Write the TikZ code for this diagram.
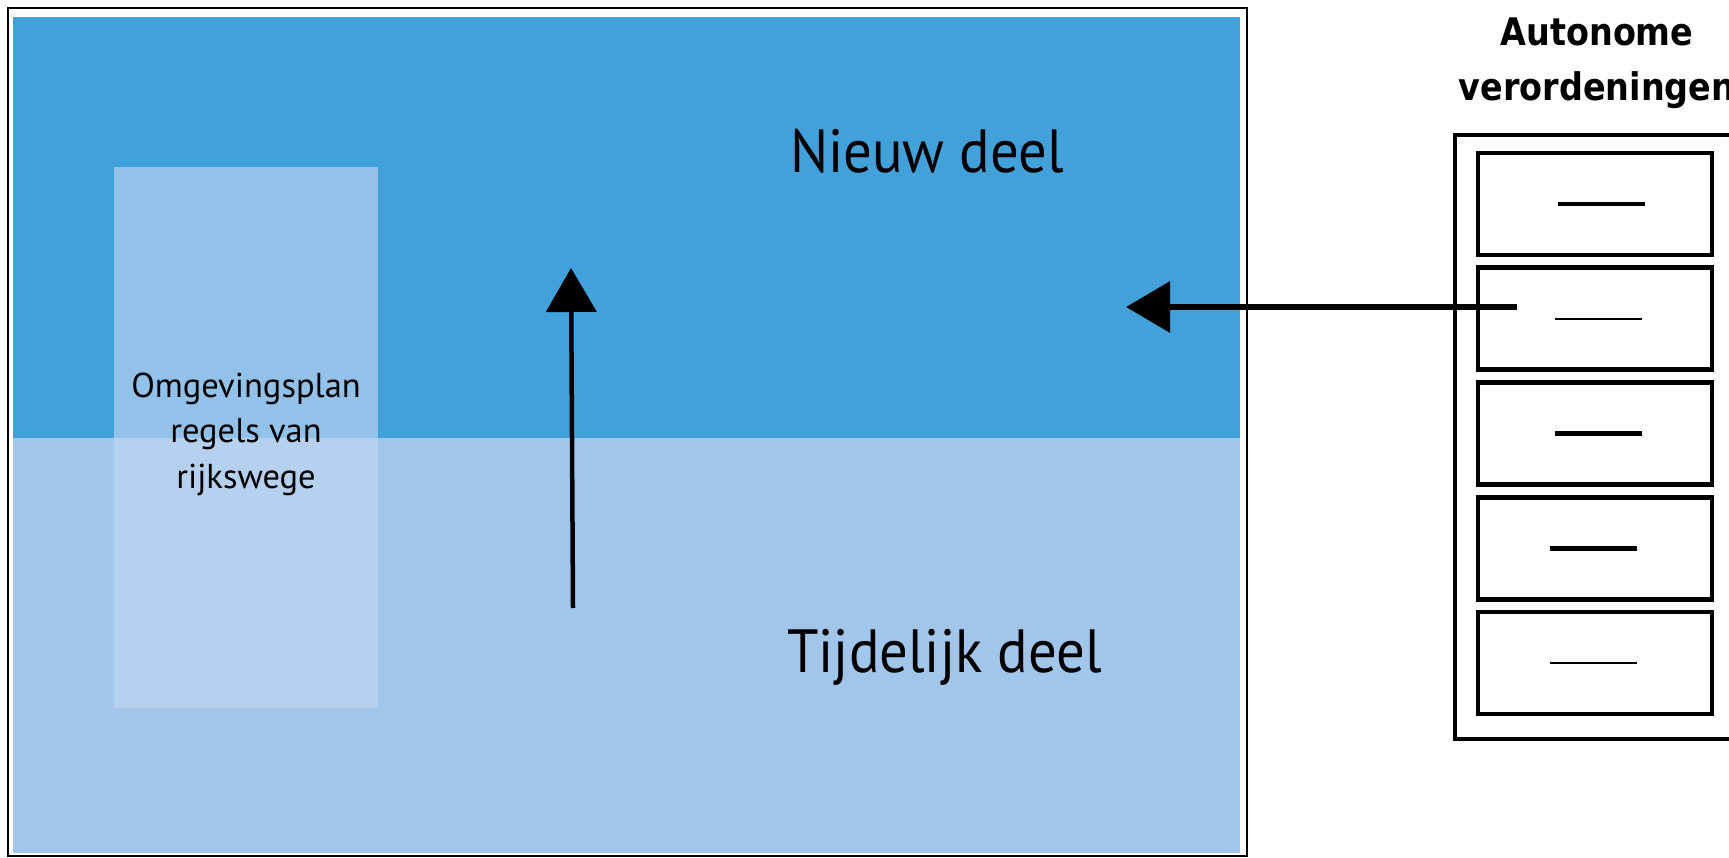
\documentclass[tikz,border=0pt]{standalone}
\usepackage{fontspec}
\setmainfont{PT Sans}
\newfontfamily\deelfont[FakeStretch=0.93]{PT Sans}
\newfontfamily\kopfont[FakeStretch=0.88]{DejaVu Sans}
\usetikzlibrary{arrows.meta,chains,positioning}

\definecolor{nieuwblauw}{HTML}{42A1DB}
\definecolor{tijdblauw}{HTML}{A1C6EA}
\definecolor{planboven}{HTML}{92C1E9}
\definecolor{planonder}{HTML}{B5D1EF}

\begin{document}
\begin{tikzpicture}[
      x=1pt,y=-1pt,
      deel/.style={font=\deelfont\fontsize{61}{70}\selectfont,anchor=base west,inner sep=0pt},
      la/.style={draw,line width=4.5pt,minimum width=234pt,minimum height=102pt,inner sep=0pt},
      pijl/.style={line width=#1,-{Triangle[length=44pt,width=50pt]}},
      start chain=kast going below,node distance=8.25pt
    ]
    \useasboundingbox (0,0) rectangle (1729,858);
    % omgevingsplan: nieuw en tijdelijk deel
    \fill[nieuwblauw] (13,17) rectangle (1240,438);
    \fill[tijdblauw] (13,438) rectangle (1240,853);
    \draw[line width=2.5pt] (8,8) rectangle (1247,856);
    \fill[planboven] (114,167) rectangle (378,438);
    \fill[planonder] (114,438) rectangle (378,708);
    \node[font=\fontsize{34.5}{45.5}\selectfont,align=center,anchor=base] (regels) at (246,488)
      {Omgevingsplan\\regels van\\rijkswege};
    \node[deel] (nieuw) at (790,173) {Nieuw deel};
    \node[deel] (tijdelijk) at (787,672) {Tijdelijk deel};
    % autonome verordeningen
    \node[font=\kopfont\bfseries\fontsize{38}{55}\selectfont,align=center,anchor=base] (titel) at (1597,101)
      {Autonome\\verordeningen};
    \node[draw,line width=4pt,minimum width=307pt,minimum height=604pt,anchor=north west,inner sep=0pt]
      (kast) at (1453,133) {};
    \node[la,on chain=kast] (la1) at (1595,204) {};
    \foreach \i in {2,...,5} {
      \node[la,on chain=kast] (la\i) {};
    }
    \foreach \i/\dx/\dik in {1/6/4.5pt,2/3/2pt,3/3/4.5pt,4/-2/4.5pt,5/-2/2pt} {
      \draw[line width=\dik] ([xshift=\dx pt-43.5pt]la\i.center) -- ++(87,0);
    }
    % pijlen
    \coordinate (voet) at (573,608);
    \coordinate (punt) at (571,268);
    \draw[pijl=4.5pt] (voet) -- (punt);
    \coordinate (van) at (1517,307);
    \coordinate (naar) at (1126,307);
    \draw[pijl=6.5pt] (van) -- (naar);
  \end{tikzpicture}
\end{document}
